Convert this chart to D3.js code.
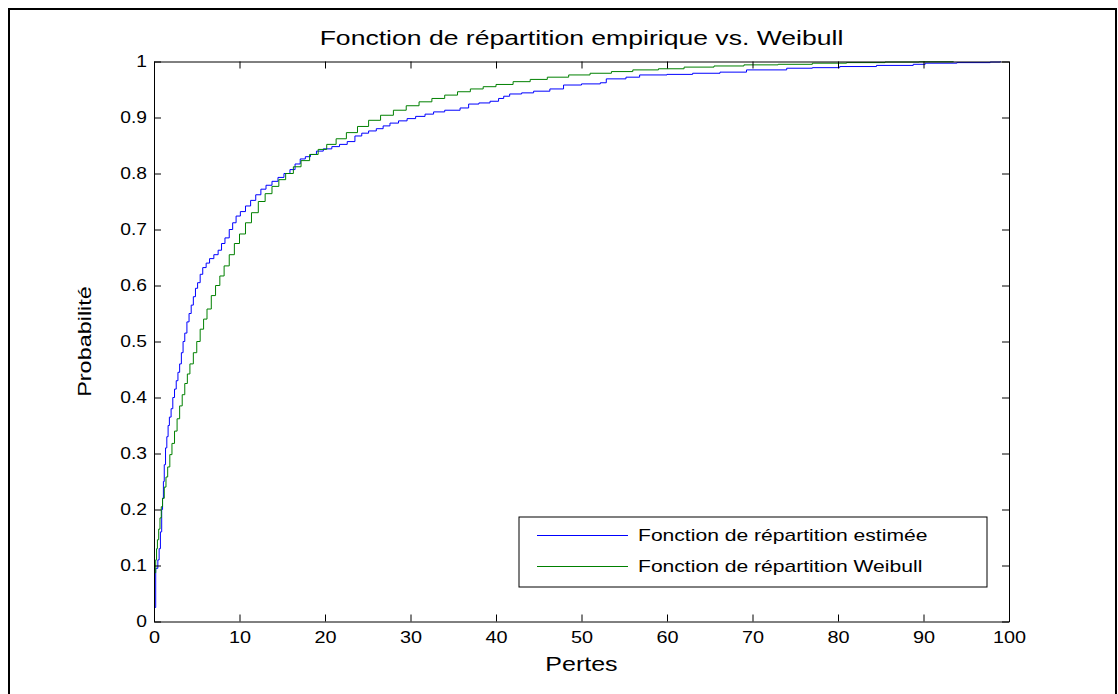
<!DOCTYPE html>
<html>
<head>
<meta charset="utf-8">
<script src="https://cdn.jsdelivr.net/npm/d3@7"></script>
<style>
  html, body { margin: 0; padding: 0; background: #fff; }
  svg { display: block; font-family: "Liberation Sans", Arial, sans-serif; }
</style>
</head>
<body>
<svg id="chart" width="1118" height="694"></svg>
<script>
// ---- Data ----
const titleText = "Fonction de répartition empirique vs. Weibull";
const xLabelText = "Pertes";
const yLabelText = "Probabilité";
const seriesNames = ["Fonction de répartition estimée", "Fonction de répartition Weibull"];
const seriesColors = ["#0000ff", "#008000"];

const xTicks = [0, 10, 20, 30, 40, 50, 60, 70, 80, 90, 100];
const xTickLabels = ["0", "10", "20", "30", "40", "50", "60", "70", "80", "90", "100"];
const yTicks = [0, 0.1, 0.2, 0.3, 0.4, 0.5, 0.6, 0.7, 0.8, 0.9, 1];
const yTickLabels = ["0", "0.1", "0.2", "0.3", "0.4", "0.5", "0.6", "0.7", "0.8", "0.9", "1"];

// Empirical CDF (step knots)
const empX = [0, 0.05, 0.2, 0.45, 0.6, 0.75, 0.9, 1.0, 1.1, 1.2, 1.35, 1.5, 1.65, 1.8, 2.0, 2.2, 2.4, 2.6, 2.8, 3.0,
  3.2, 3.4, 3.6, 3.85, 4.1, 4.35, 4.6, 4.85, 5.1, 5.4, 5.7, 6.1, 6.5, 7.0, 7.5, 7.9, 8.3, 8.8, 9.2, 9.6,
  10.1, 10.7, 11.3, 11.9, 12.5, 13.1, 13.8, 14.5, 15.2, 15.9, 16.5, 17.1, 17.7, 18.3, 19.0, 19.8, 20.8, 21.7, 22.6, 23.5,
  24.3, 25.1, 26.0, 26.8, 27.6, 28.6, 29.6, 30.6, 31.7, 32.7, 34.0, 35.8, 36.8, 38.0, 39.3, 40.3, 40.9, 41.6, 43.0, 44.4,
  46.3, 47.9, 50.0, 52.2, 52.9, 55.2, 56.8, 60.0, 63.0, 66.2, 69.3, 74.0, 77.0, 80.2, 84.5, 88.8, 90.2, 93.9, 97.8, 99.0];
const empP = [0, 0.025, 0.095, 0.11, 0.13, 0.16, 0.20, 0.22, 0.25, 0.28, 0.31, 0.33, 0.35, 0.365, 0.38, 0.40, 0.415, 0.43, 0.445, 0.46,
  0.48, 0.50, 0.515, 0.535, 0.55, 0.565, 0.58, 0.595, 0.605, 0.62, 0.632, 0.64, 0.648, 0.655, 0.663, 0.675, 0.685, 0.70, 0.712, 0.724,
  0.732, 0.742, 0.752, 0.762, 0.772, 0.779, 0.786, 0.793, 0.80, 0.807, 0.817, 0.826, 0.83, 0.834, 0.84, 0.844, 0.848, 0.852, 0.857, 0.867,
  0.872, 0.876, 0.88, 0.885, 0.89, 0.894, 0.898, 0.902, 0.906, 0.91, 0.913, 0.917, 0.924, 0.926, 0.929, 0.934, 0.938, 0.942, 0.944, 0.947,
  0.951, 0.958, 0.96, 0.962, 0.969, 0.972, 0.976, 0.977, 0.979, 0.981, 0.985, 0.988, 0.989, 0.991, 0.993, 0.995, 0.997, 0.998, 0.999, 1.0];

// Fitted Weibull CDF (evaluated at the losses)
const weiX = [0.1, 0.2, 0.3, 0.4, 0.55, 0.7, 0.85, 1.0, 1.2, 1.4, 1.6, 1.85, 2.1, 2.4, 2.7, 3.0, 3.3, 3.6, 3.9, 4.2,
  4.6, 5.0, 5.4, 5.8, 6.2, 6.7, 7.2, 7.7, 8.2, 8.8, 9.4, 10.0, 10.7, 11.4, 12.2, 13.0, 13.8, 14.6, 15.4, 16.3,
  17.2, 18.2, 19.2, 20.2, 21.3, 22.5, 23.8, 25.1, 26.5, 28.0, 29.5, 31.0, 32.5, 34.0, 35.5, 37.0, 38.5, 40.0, 42.0, 44.0,
  46.0, 48.5, 51.0, 53.5, 56.0, 59.0, 62.0, 65.5, 69.0, 73.0, 77.0, 81.0, 85.5, 89.5, 93.5];
const weiP = [0.087, 0.11, 0.13, 0.146, 0.165, 0.185, 0.205, 0.22, 0.24, 0.258, 0.276, 0.298, 0.318, 0.34, 0.362, 0.385, 0.405, 0.425, 0.442, 0.46,
  0.48, 0.50, 0.522, 0.54, 0.558, 0.582, 0.6, 0.617, 0.635, 0.655, 0.675, 0.692, 0.712, 0.73, 0.75, 0.764, 0.777, 0.789, 0.80, 0.812,
  0.823, 0.834, 0.843, 0.852, 0.862, 0.873, 0.884, 0.895, 0.904, 0.913, 0.921, 0.928, 0.934, 0.94, 0.946, 0.951, 0.955, 0.959, 0.964, 0.968,
  0.972, 0.976, 0.979, 0.982, 0.985, 0.987, 0.99, 0.992, 0.994, 0.995, 0.997, 0.998, 0.999, 0.9995, 1.0];

// ---- Drawing ----
const svg = d3.select("#chart");
const pLeft = 154, pRight = 1009, pTop = 61.5, pBottom = 621.5;
const x = d3.scaleLinear().domain([0, 100]).range([pLeft, pRight]);
const y = d3.scaleLinear().domain([0, 1]).range([pBottom, pTop]);

// widen glyphs along the text direction (reference text is wider than Arial)
function widen(sel, factor) {
  sel.each(function () {
    const len = this.getComputedTextLength();
    d3.select(this).attr("textLength", len * factor).attr("lengthAdjust", "spacingAndGlyphs");
  });
}

svg.append("rect").attr("width", 1118).attr("height", 694).attr("fill", "#fff");
// outer figure frame
svg.append("rect").attr("x", 9).attr("y", 9).attr("width", 1107).attr("height", 720)
  .attr("fill", "none").attr("stroke", "#000").attr("stroke-width", 2);

svg.append("clipPath").attr("id", "clip").append("rect")
  .attr("x", pLeft).attr("y", pTop - 1).attr("width", pRight - pLeft).attr("height", pBottom - pTop + 1);

const lineGen = d3.line().x(d => x(d[0])).y(d => y(d[1])).curve(d3.curveStepAfter);
const empData = empX.map((v, i) => [v, empP[i]]);
const weiData = weiX.map((v, i) => [v, weiP[i]]);

const plot = svg.append("g").attr("clip-path", "url(#clip)");
plot.append("path").datum(empData).attr("d", lineGen)
  .attr("fill", "none").attr("stroke", seriesColors[0]).attr("stroke-width", 1);
plot.append("path").datum(weiData).attr("d", lineGen)
  .attr("fill", "none").attr("stroke", seriesColors[1]).attr("stroke-width", 1);

const fontSize = 16;
const tickLen = 7;
const gB = svg.append("g").attr("transform", `translate(0,${pBottom})`)
  .call(d3.axisBottom(x).tickValues(xTicks).tickFormat((d, i) => xTickLabels[i])
    .tickSizeInner(-tickLen).tickSizeOuter(0).tickPadding(10));
const gL = svg.append("g").attr("transform", `translate(${pLeft},0)`)
  .call(d3.axisLeft(y).tickValues(yTicks).tickFormat((d, i) => yTickLabels[i])
    .tickSizeInner(-tickLen).tickSizeOuter(0).tickPadding(7));
const gT = svg.append("g").attr("transform", `translate(0,${pTop})`)
  .call(d3.axisTop(x).tickValues(xTicks).tickFormat("").tickSizeInner(-tickLen).tickSizeOuter(0));
const gR = svg.append("g").attr("transform", `translate(${pRight},0)`)
  .call(d3.axisRight(y).tickValues(yTicks).tickFormat("").tickSizeInner(-tickLen).tickSizeOuter(0));
[gB, gL, gT, gR].forEach(g => {
  g.attr("font-family", null).attr("font-size", null);
  g.selectAll("text").attr("font-size", fontSize).attr("fill", "#000");
  g.selectAll("line").attr("stroke", "#000");
  g.select(".domain").attr("stroke", "#000");
});
widen(gB.selectAll("text"), 1.24);
widen(gL.selectAll("text"), 1.2);

// title and axis labels
const tTitle = svg.append("text").attr("x", (pLeft + pRight) / 2).attr("y", 45).attr("text-anchor", "middle")
  .attr("font-size", 21).text(titleText);
widen(tTitle, 1.265);
const tX = svg.append("text").attr("x", (pLeft + pRight) / 2).attr("y", 671).attr("text-anchor", "middle")
  .attr("font-size", 20).text(xLabelText);
widen(tX, 1.25);
const tY = svg.append("text").attr("transform", `translate(91,${(pTop + pBottom) / 2}) rotate(-90)`)
  .attr("text-anchor", "middle").attr("font-size", 18).text(yLabelText);
widen(tY, 1.3);

// legend
const lg = svg.append("g");
lg.append("rect").attr("x", 519).attr("y", 517).attr("width", 468).attr("height", 70)
  .attr("fill", "#fff").attr("stroke", "#000").attr("stroke-width", 1);
const legY = [535.5, 566.5];
seriesNames.forEach((name, i) => {
  lg.append("line").attr("x1", 537).attr("x2", 628).attr("y1", legY[i]).attr("y2", legY[i])
    .attr("stroke", seriesColors[i]).attr("stroke-width", 1);
  const t = lg.append("text").attr("x", 638).attr("y", legY[i]).attr("dy", "0.35em")
    .attr("font-size", 17).text(name);
  widen(t, 1.24);
});
</script>
</body>
</html>
